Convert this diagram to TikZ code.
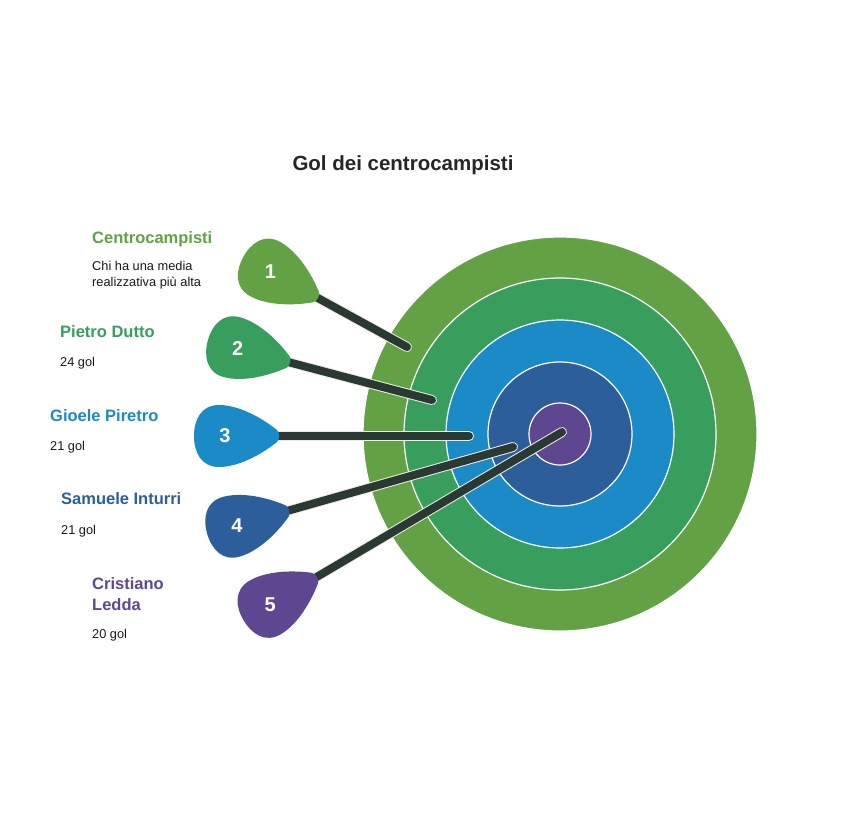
\documentclass[tikz,border=0pt]{standalone}
\usepackage{fontspec}
\setmainfont{Liberation Sans}
\usetikzlibrary{calc}

\definecolor{ringA}{HTML}{62A244}
\definecolor{ringB}{HTML}{389E5E}
\definecolor{ringC}{HTML}{1A8BC6}
\definecolor{ringD}{HTML}{2D5E9C}
\definecolor{ringE}{HTML}{5E4691}
\definecolor{shaftc}{HTML}{2B3935}
\definecolor{edgec}{HTML}{EEECDC}

\tikzset{
    dart/.pic = {
        \fill[pic actions] (0,6) .. controls (-15,18) and (-38,31) .. (-58,31)
            .. controls (-76,31) and (-83,16) .. (-83,0)
            .. controls (-83,-16) and (-76,-31) .. (-58,-31)
            .. controls (-38,-31) and (-15,-18) .. (0,-6)
            .. controls (3,-3) and (3,3) .. (0,6) -- cycle;
    }
}

\begin{document}
\begin{tikzpicture}[x=1pt, y=-1pt,
        heading/.style = {font=\fontsize{20.5}{24}\selectfont\bfseries, text=black!85},
        player/.style  = {anchor=west, inner sep=0pt, align=left, font=\fontsize{16.5}{21}\selectfont\bfseries},
        stat/.style    = {anchor=west, inner sep=0pt, align=left, text=black!90, font=\fontsize{12.8}{15.5}\selectfont},
        num/.style     = {text=white, font=\fontsize{20}{22}\selectfont\bfseries},
        shaft/.style   = {draw=shaftc, line width=8pt, line cap=round,
                          preaction={draw=edgec, line width=10pt, line cap=round}}]
    \useasboundingbox[fill=white] (0,0) rectangle (852,836);

    \node[heading] (title) at (403,165) {Gol dei centrocampisti};

    % target
    \coordinate (c) at (560,434);
    \foreach \r/\col in {197/ringA, 156/ringB, 114/ringC, 72/ringD, 31/ringE}
        \draw[white, line width=1.2pt, fill=\col] (c) circle[radius=\r];

    % darts: tip, hit point, angle, colour
    \foreach \i/\tx/\ty/\hx/\hy/\a/\col in {
            1/316/297/407/347/-28.8/ringA,
            2/288/362/432/400/-14.8/ringB,
            3/277/436/469/436/0/ringC,
            4/287/511/513/447/15.8/ringD,
            5/315/578/562/432/30.6/ringE}{
        \coordinate (tip\i) at (\tx,\ty);
        \coordinate (hit\i) at (\hx,\hy);
        \draw[shaft] (tip\i) -- (hit\i);
        \pic[rotate=\a, fill=\col] at (tip\i) {dart};
        \node[num] (n\i) at ($(tip\i)!-52pt!(hit\i)$) {\i};
    }

    % labels
    \node[player, text=ringA] (lab1) at (92,239) {Centrocampisti};
    \node[stat] (sub1) at (92,275) {Chi ha una media\\realizzativa più alta};
    \node[player, text=ringB] (lab2) at (60,332) {Pietro Dutto};
    \node[stat] (sub2) at (60,363) {24 gol};
    \node[player, text=ringC] (lab3) at (50,416) {Gioele Piretro};
    \node[stat] (sub3) at (50,447) {21 gol};
    \node[player, text=ringD] (lab4) at (61,499) {Samuele Inturri};
    \node[stat] (sub4) at (61,531) {21 gol};
    \node[player, text=ringE] (lab5) at (92,594) {Cristiano\\Ledda};
    \node[stat] (sub5) at (92,635) {20 gol};
\end{tikzpicture}
\end{document}
